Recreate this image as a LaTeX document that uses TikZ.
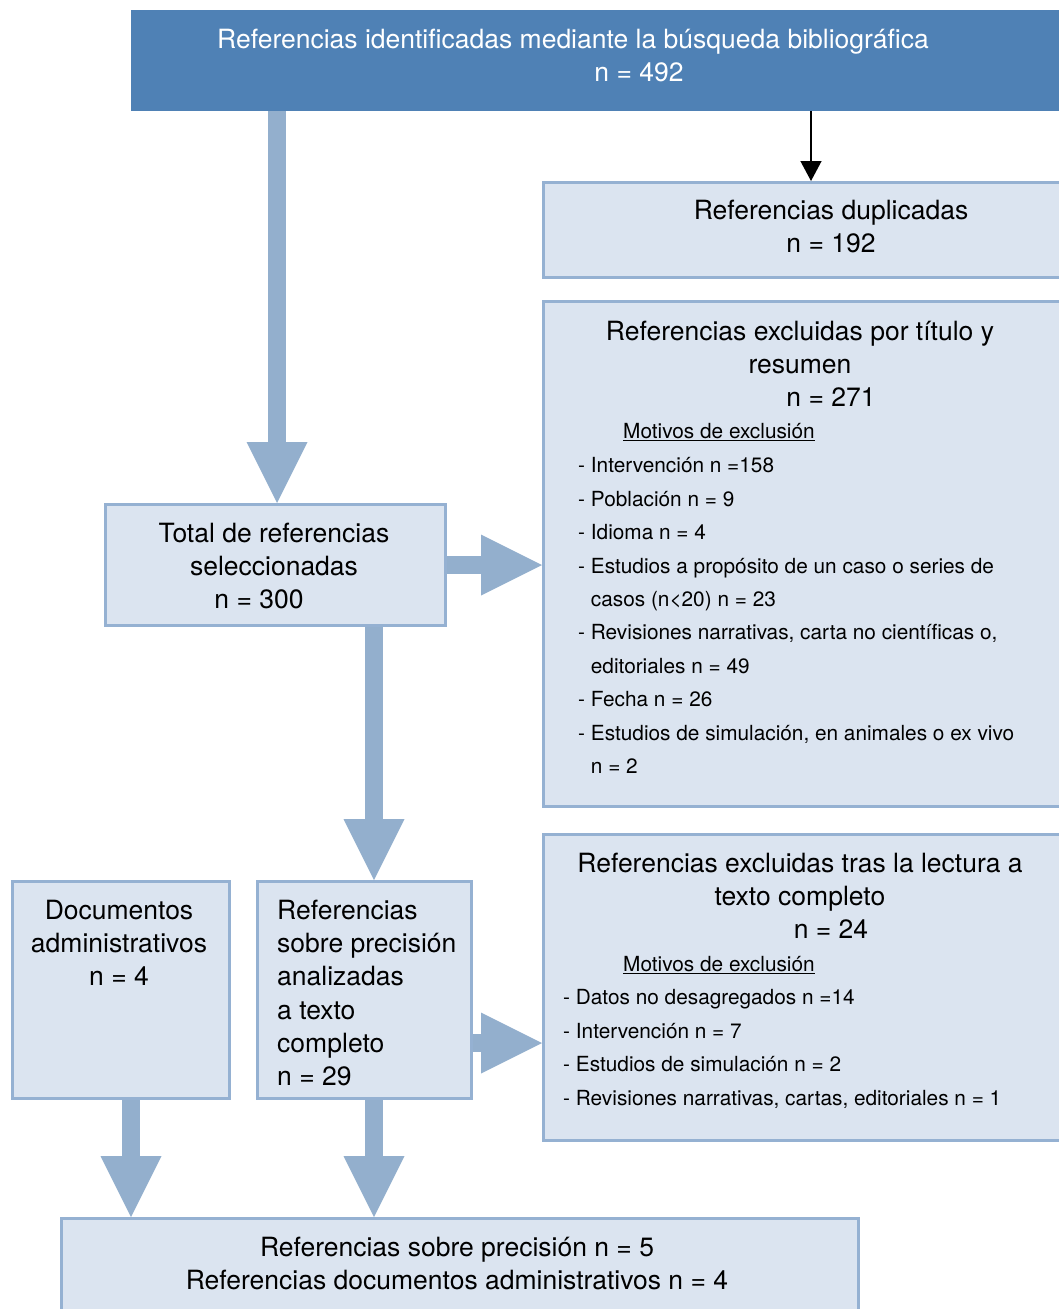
\documentclass[tikz,border=0pt]{standalone}
\usepackage{fontspec}
\setmainfont{TeX Gyre Heros}
\usetikzlibrary{arrows.meta}
\definecolor{topblue}{RGB}{79,129,181}
\definecolor{boxfill}{RGB}{219,228,240}
\definecolor{boxline}{RGB}{149,177,210}
\definecolor{flowblue}{RGB}{147,175,205}
\tikzset{
    box/.style={draw=boxline,fill=boxfill,line width=3pt,inner sep=0pt,anchor=north west,
        align=center,font=\fontsize{26.5}{33.3}\selectfont},
    headtxt/.style={inner sep=0pt,anchor=north,align=center,font=\fontsize{26.5}{33.3}\selectfont},
    listtxt/.style={inner sep=0pt,anchor=north west,align=left,font=\fontsize{20.8}{33.4}\selectfont},
    fat/.style={draw=flowblue,line width=18.5pt,
        -{Triangle[width=61pt,length=61pt,line width=0pt,fill=flowblue]}},
}
\begin{document}
\begin{tikzpicture}[x=1pt,y=-1pt]
    \useasboundingbox (0,0) rectangle (1058,1309);
    \node[fill=topblue,inner sep=0pt,anchor=north west,minimum width=940pt,minimum height=101pt] (busq) at (131,10) {};
    \node[headtxt,text=white] (busqtxt) at (573,28.5) {Referencias identificadas mediante la búsqueda bibliográfica\\\hspace*{132pt}n = 492};
    \node[box,minimum width=530pt,minimum height=95pt] (dupl) at (542,181) {};
    \node[headtxt] (dupltxt) at (831,199.5) {Referencias duplicadas\\n = 192};
    \node[box,minimum width=530pt,minimum height=505pt] (excl1) at (542,300) {};
    \node[headtxt] (excl1txt) at (800,320.5) {Referencias excluidas por título y\\resumen\\\hspace*{62pt}n = 271};
    \node[listtxt] (mot1) at (623,423.5) {\underline{Motivos de exclusión}};
    \node[listtxt] (lista1) at (578,457.5) {- Intervención n =158\\- Población n = 9\\- Idioma n = 4\\
        - Estudios a propósito de un caso o series de\\\phantom{- }casos (n<20) n = 23\\
        - Revisiones narrativas, carta no científicas o,\\\phantom{- }editoriales n = 49\\
        - Fecha n = 26\\- Estudios de simulación, en animales o ex vivo\\\phantom{- }n = 2};
    \node[box,minimum width=340pt,minimum height=121pt] (total) at (104,503) {};
    \node[headtxt] (totaltxt) at (274,522.5) {Total de referencias\\seleccionadas\\n = 300\hspace*{30pt}};
    \node[box,minimum width=530pt,minimum height=306pt] (excl2) at (542,833) {};
    \node[headtxt] (excl2txt) at (800,852.5) {Referencias excluidas tras la lectura a\\texto completo\\\hspace*{62pt}n = 24};
    \node[listtxt] (mot2) at (623,956.5) {\underline{Motivos de exclusión}};
    \node[listtxt] (lista2) at (563,989.5) {- Datos no desagregados n =14\\- Intervención n = 7\\
        - Estudios de simulación n = 2\\- Revisiones narrativas, cartas, editoriales n = 1};
    \node[box,minimum width=217pt,minimum height=217pt] (docs) at (11,880) {};
    \node[headtxt] (docstxt) at (119,899.5) {Documentos\\administrativos\\n = 4};
    \node[box,minimum width=214pt,minimum height=217pt] (prec) at (256,880) {};
    \node[headtxt,anchor=north west,align=left] (prectxt) at (277,899.5) {Referencias\\sobre precisión\\analizadas\\a texto\\completo\\n = 29};
    \node[box,minimum width=797pt,minimum height=110pt] (final) at (60,1217) {};
    \node[headtxt] (finaltxt) at (457,1236.5) {Referencias sobre precisión n = 5\\Referencias documentos administrativos n = 4};
    \coordinate (c1) at (277,0);
    \coordinate (c2) at (374,0);
    \coordinate (c3) at (0,1043);
    \coordinate (c4) at (131,0);
    \coordinate (c5) at (811,0);
    \draw[fat] (busq.south -| c1) -- (total.north -| c1);
    \draw[fat] (total.east) -- (total.east -| excl1.west);
    \draw[fat] (total.south -| c2) -- (prec.north -| c2);
    \draw[fat] (prec.east |- c3) -- (c3 -| excl2.west);
    \draw[fat] (docs.south -| c4) -- (final.north -| c4);
    \draw[fat] (prec.south -| c2) -- (final.north -| c2);
    \draw[line width=1.3pt,-{Triangle[width=21pt,length=20pt]}] (busq.south -| c5) -- (dupl.north -| c5);
\end{tikzpicture}
\end{document}
